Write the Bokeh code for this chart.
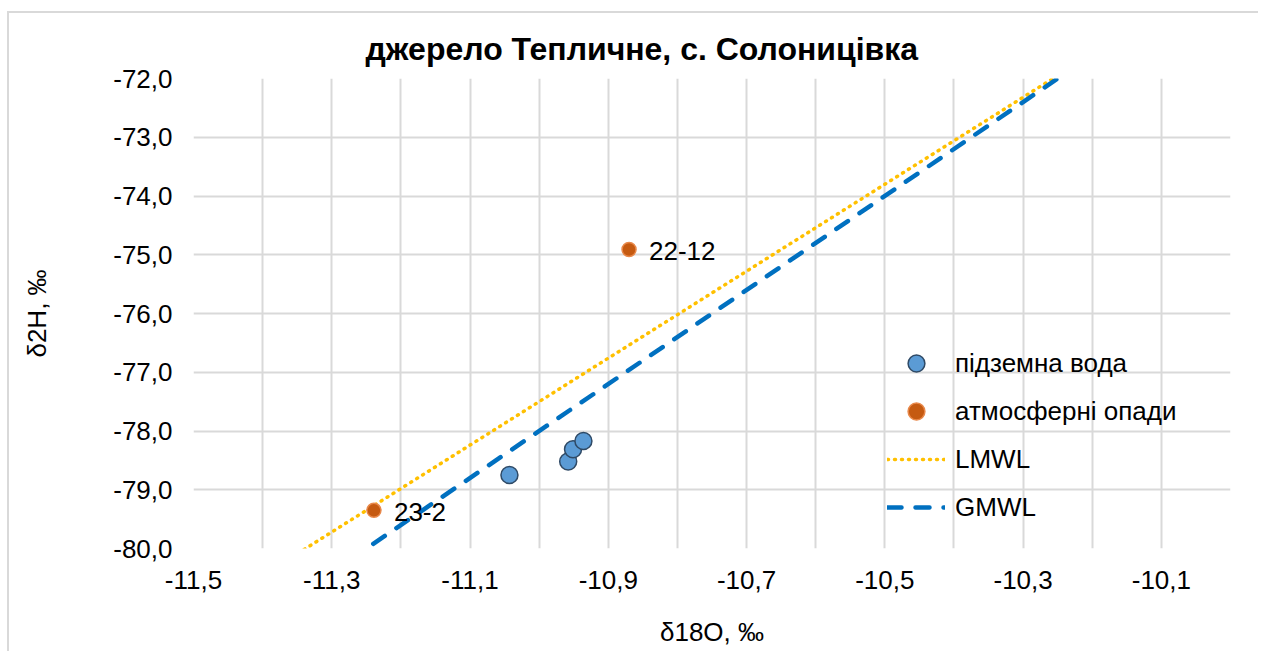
from bokeh.plotting import figure
from bokeh.models import ColumnDataSource, FixedTicker, CustomJSTickFormatter, Legend, LegendItem, LabelSet
from bokeh.core.properties import value
from bokeh.embed import file_html
from bokeh.resources import INLINE

# --- data ---
gw_x = [-11.043, -10.958, -10.951, -10.936]
gw_y = [-78.75, -78.52, -78.31, -78.17]
pr_x = [-10.870, -11.239]
pr_y = [-74.91, -79.35]
pr_lab = ["22-12", "23-2"]
lmwl_x = [-11.40, -10.00]
lmwl_y = [-80.46, -70.10]
gmwl_x = [-11.24, -10.00]
gmwl_y = [-79.92, -70.00]
x_ticks = [-11.5, -11.4, -11.3, -11.2, -11.1, -11.0, -10.9, -10.8, -10.7, -10.6,
           -10.5, -10.4, -10.3, -10.2, -10.1, -10.0]
y_ticks = [-80.0, -79.0, -78.0, -77.0, -76.0, -75.0, -74.0, -73.0, -72.0]

FONT = "Liberation Sans"
FS = "26px"

p = figure(width=1251, height=640, output_backend="svg", toolbar_location=None,
           x_range=(-11.5, -10.0), y_range=(-80.0, -72.0),
           min_border_left=184, min_border_right=30, min_border_top=65, min_border_bottom=105,
           title="джерело Тепличне, с. Солоницівка")
p.styles = {"border-left": "2px solid #d9d9d9", "border-top": "2px solid #d9d9d9",
            "margin-left": "7px", "margin-top": "11px"}
p.outline_line_color = None
p.background_fill_color = "white"
p.border_fill_color = "white"

p.title.text_font = FONT
p.title.text_font_size = "32px"
p.title.text_font_style = "bold"
p.title.text_color = "#000000"
p.title.align = "left"
p.title.offset = 172
p.title.standoff = 23

p.xaxis.ticker = FixedTicker(ticks=x_ticks)
p.yaxis.ticker = FixedTicker(ticks=y_ticks)
p.xaxis.formatter = CustomJSTickFormatter(code="""
const k = Math.round((tick + 11.5) * 10);
if (k % 2 != 0) { return ''; }
return tick.toFixed(1).replace('.', ',');
""")
p.yaxis.formatter = CustomJSTickFormatter(code="return tick.toFixed(1).replace('.', ',');")

for ax in (p.xaxis[0], p.yaxis[0]):
    ax.axis_line_color = None
    ax.major_tick_line_color = None
    ax.minor_tick_line_color = None
    ax.major_tick_in = 0
    ax.major_tick_out = 0
    ax.minor_tick_out = 0
    ax.major_label_text_font = FONT
    ax.major_label_text_font_size = FS
    ax.major_label_text_color = "#000000"
    ax.axis_label_text_font = FONT
    ax.axis_label_text_font_size = FS
    ax.axis_label_text_font_style = "normal"
    ax.axis_label_text_color = "#000000"

p.xaxis.axis_label = "δ18O, ‰"
p.yaxis.axis_label = "δ2H, ‰"
p.xaxis.major_label_standoff = 22
p.xaxis.axis_label_standoff = 25
p.yaxis.major_label_standoff = 21
p.yaxis.axis_label_standoff = 58

p.grid.grid_line_color = "#d9d9d9"
p.grid.grid_line_width = 2

r_lmwl = p.line(lmwl_x, lmwl_y, line_color="#FFC000", line_width=3.5,
                line_dash="1 6", line_cap="round")
r_gmwl = p.line(gmwl_x, gmwl_y, line_color="#0070C0", line_width=4.5,
                line_dash="14 14", line_cap="round")
r_gw = p.scatter(gw_x, gw_y, size=17, fill_color="#5B9BD5", line_color="#2f4a66", line_width=1.5)
src_pr = ColumnDataSource(dict(x=pr_x, y=pr_y, t=pr_lab))
r_pr = p.scatter("x", "y", source=src_pr, size=14, fill_color="#C55A11", line_color="#E8884A", line_width=1.5)

labels = LabelSet(x="x", y="y", text="t", source=src_pr, x_offset=20, y_offset=-2,
                  text_font=value(FONT), text_font_size=value(FS), text_baseline="middle",
                  text_color="#000000")
p.add_layout(labels)

legend = Legend(items=[
    LegendItem(label="підземна вода", renderers=[r_gw]),
    LegendItem(label="атмосферні опади", renderers=[r_pr]),
    LegendItem(label="LMWL", renderers=[r_lmwl]),
    LegendItem(label="GMWL", renderers=[r_gmwl]),
], location=(694, 20), orientation="vertical")
legend.background_fill_alpha = 0
legend.border_line_color = None
legend.padding = 0
legend.margin = 0
legend.spacing = 6
legend.label_height = 30
legend.glyph_height = 42
legend.glyph_width = 58
legend.label_standoff = 10
legend.label_text_font = FONT
legend.label_text_font_size = FS
legend.label_text_color = "#000000"
p.add_layout(legend, "center")

open("out.html", "w").write(file_html(p, INLINE))
